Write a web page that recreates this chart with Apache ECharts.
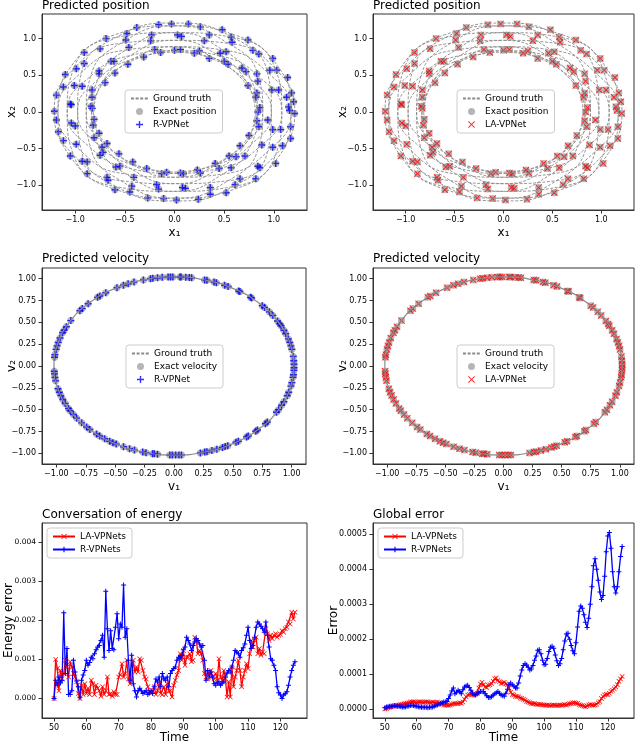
<!DOCTYPE html>
<html>
<head>
<meta charset="utf-8">
<script src="https://cdn.jsdelivr.net/npm/echarts@6/dist/echarts.min.js"></script>
<style>
  html, body { margin: 0; padding: 0; background: #fff; }
  #chart { width: 640px; height: 745px; }
</style>
</head>
<body>
<div id="chart"></div>
<script>
// time samples of the test trajectory (step 0.5)
const timeSteps = [
  50, 50.5, 51, 51.5, 52, 52.5, 53, 53.5, 54, 54.5,
  55, 55.5, 56, 56.5, 57, 57.5, 58, 58.5, 59, 59.5,
  60, 60.5, 61, 61.5, 62, 62.5, 63, 63.5, 64, 64.5,
  65, 65.5, 66, 66.5, 67, 67.5, 68, 68.5, 69, 69.5,
  70, 70.5, 71, 71.5, 72, 72.5, 73, 73.5, 74, 74.5,
  75, 75.5, 76, 76.5, 77, 77.5, 78, 78.5, 79, 79.5,
  80, 80.5, 81, 81.5, 82, 82.5, 83, 83.5, 84, 84.5,
  85, 85.5, 86, 86.5, 87, 87.5, 88, 88.5, 89, 89.5,
  90, 90.5, 91, 91.5, 92, 92.5, 93, 93.5, 94, 94.5,
  95, 95.5, 96, 96.5, 97, 97.5, 98, 98.5, 99, 99.5,
  100, 100.5, 101, 101.5, 102, 102.5, 103, 103.5, 104, 104.5,
  105, 105.5, 106, 106.5, 107, 107.5, 108, 108.5, 109, 109.5,
  110, 110.5, 111, 111.5, 112, 112.5, 113, 113.5, 114, 114.5,
  115, 115.5, 116, 116.5, 117, 117.5, 118, 118.5, 119, 119.5,
  120, 120.5, 121, 121.5, 122, 122.5, 123, 123.5, 124, 124.5
];

// energy error
const energyLA = [
  0, .001, .00077, .0002, .00072, .0005, .00064, .00098, .00081, .00055,
  .00094, .00081, .00064, .00055, .00043, .00013, 0, .00034, .0001, .00038,
  .00013, .00026, .0001, .00047, .00038, .0001, .00034, .00026, .0002, .00006,
  .0003, .0001, .0002, .00055, .0001, .00013, .00006, .00017, .0001, .0001,
  .00055, .0006, .00089, .00055, .00064, .00098, .0005, .00038, .00047, .00098,
  .00068, .00081, .00068, .00102, .00098, .00072, .00055, .0005, .0003, .00017,
  .00013, .0002, .0003, .0001, .0002, .00038, .00013, .0001, .0003, .0001,
  .00038, .0002, .0002, .00004, .00034, .00047, .0006, .00072, .00115, .00098,
  .00123, .00085, .00106, .00106, .00115, .00094, .00098, .00157, .00149, .00115,
  .00123, .00115, .00098, .00064, .00055, .0005, .00064, .00072, .00055, .0005,
  .00064, .00047, .00102, .00055, .00047, .00072, .0005, .00004, .00043, .00004,
  .00081, .0003, .00055, .00072, .00098, .00072, .0003, .00055, .00072, .00089,
  .00077, .00115, .00149, .00132, .00149, .00157, .00115, .00128, .00111, .00119,
  .00115, .00179, .00166, .00149, .00162, .00153, .00162, .00166, .00157, .00162,
  .00165, .00174, .0017, .00179, .00183, .00196, .00191, .00221, .00204, .00221
];
const energyR = [
  0, .00047, .00034, .00055, .0004, .00047, .0022, .00064, .00128, .0001,
  .0001, .0002, .00098, .00068, .00045, .0003, .00002, .00047, .0006, .00072,
  .00098, .00085, .00092, .00106, .00102, .00115, .00125, .00132, .00136, .00149,
  .00162, .00106, .00275, .00179, .00123, .00174, .00128, .00125, .00183, .00217,
  .00153, .00191, .00183, .00291, .00157, .00179, .00098, .00047, .00111, .00038,
  .0002, .00004, .0002, .00026, .0002, .00013, .00016, .0002, .0001, .00015,
  .0002, .00013, .0003, .0005, .00042, .00055, .0003, .00064, .0005, .00047,
  .00055, .0003, .00064, .00072, .00077, .00081, .00098, .00106, .00104, .0011,
  .00125, .00132, .00157, .00149, .0014, .00123, .00136, .00145, .00153, .00149,
  .0014, .00132, .00136, .00098, .00047, .00072, .00055, .00068, .00055, .00038,
  .00034, .0004, .00043, .00034, .0004, .00043, .00055, .00065, .00072, .00068,
  .00081, .00098, .00123, .00119, .00115, .00106, .00123, .0013, .0014, .00162,
  .00183, .00149, .00128, .00136, .00157, .00183, .00196, .00191, .00185, .00179,
  .0017, .00196, .00162, .00132, .00102, .00098, .00085, .00072, .0003, .00015,
  .00009, 0, .00009, .00012, .00017, .00034, .00055, .00072, .00085, .00094
];

// global error
const errorLA = [
  0, .000002, .000004, .000005, .000006, .000008, .000009, .00001, .000011, .000012,
  .000013, .000014, .000015, .000016, .000017, .000018, .00002, .00002, .000021, .00002,
  .000019, .00002, .000021, .00002, .000019, .00002, .000021, .00002, .000019, .000018,
  .00002, .000019, .000018, .00002, .000018, .000016, .000014, .000012, .000012, .000011,
  .000011, .000012, .000014, .000015, .000016, .000015, .000016, .000018, .000017, .00002,
  .000028, .000035, .00004, .000042, .000044, .000042, .00004, .000043, .000045, .00006,
  .000072, .000077, .00007, .000063, .000062, .000068, .00007, .000073, .00008, .000087,
  .000089, .000082, .000078, .000073, .000075, .000077, .000072, .00007, .00006, .000048,
  .000042, .00004, .000037, .000036, .000035, .000032, .00003, .000028, .000025, .000022,
  .00002, .000018, .000016, .000015, .000016, .000014, .000013, .000014, .000013, .000012,
  .000012, .000011, .000012, .000011, .00001, .000011, .000012, .000011, .00001, .000011,
  .000012, .000011, .000012, .000013, .000012, .000014, .000015, .000016, .000018, .000018,
  .000017, .000016, .000013, .000011, .00001, .000008, .000007, .000009, .000012, .000013,
  .000012, .000011, .000012, .000014, .000018, .000022, .00003, .000036, .00004, .000042,
  .000042, .000045, .00005, .000054, .000058, .000063, .00007, .00008, .000086, .000093
];
const errorR = [
  .000004, .000006, .000007, .000008, .000008, .000009, .00001, .000009, .000008, .000008,
  .000007, .000006, .000006, .000007, .000008, .000009, .00001, .000011, .00001, .000009,
  .000008, .000007, .000006, .000005, .000005, .000005, .000005, .000004, .000005, .000005,
  .000006, .000008, .00001, .000012, .000014, .000016, .000018, .00002, .00002, .000022,
  .00003, .00004, .000052, .00006, .000044, .000048, .000054, .00005, .000044, .000055,
  .000063, .000066, .000068, .000062, .000054, .000046, .00004, .00004, .000044, .000047,
  .00005, .00005, .00005, .000044, .000038, .000033, .000033, .000035, .00004, .000044,
  .000047, .00005, .000045, .00004, .000038, .000037, .000045, .000057, .00007, .000075,
  .00007, .000066, .00006, .00006, .000075, .000095, .000112, .000125, .00013, .000126,
  .00012, .000112, .000115, .000125, .00014, .000152, .000168, .00017, .000158, .00014,
  .000127, .000128, .000145, .000165, .000177, .00018, .000174, .000155, .000138, .000125,
  .00013, .000145, .00017, .000195, .000215, .000217, .0002, .000182, .000167, .000158,
  .00019, .000235, .00028, .000295, .000288, .00027, .000248, .000233, .00026, .0003,
  .00035, .00041, .00043, .0004, .000368, .000335, .000313, .000325, .00038, .00045,
  .000495, .000505, .00046, .000393, .00035, .000332, .00035, .000393, .000436, .000465
];

// ground-truth orbit loops (x1, x2), read from the rosette
const positionLoops = [
  [[0.817,0],[0.723,0.418],[0.445,0.770],[0,0.976],[-0.541,0.936],[-1.017,0.587],[-1.212,0],[-1.017,-0.587],[-0.541,-0.936],[0,-0.976],[0.445,-0.770],[0.723,-0.418],[0.817,0]],
  [[0.708,0.409],[0.418,0.723],[0,0.889],[-0.488,0.845],[-0.936,0.541],[-1.174,0],[-1.050,-0.606],[-0.587,-1.017],[0,-1.081],[0.488,-0.845],[0.770,-0.445],[0.835,0],[0.708,0.409]],
  [[0.409,0.708],[0,0.835],[-0.445,0.770],[-0.845,0.488],[-1.081,0],[-1.017,-0.587],[-0.606,-1.050],[0,-1.174],[0.541,-0.936],[0.845,-0.488],[0.889,0],[0.723,0.418],[0.409,0.708]],
  [[0,0.817],[-0.418,0.723],[-0.770,0.445],[-0.976,0],[-0.936,-0.541],[-0.587,-1.017],[0,-1.212],[0.587,-1.017],[0.936,-0.541],[0.976,0],[0.770,0.445],[0.418,0.723],[0,0.817]],
  [[-0.409,0.708],[-0.723,0.418],[-0.889,0],[-0.845,-0.488],[-0.541,-0.936],[0,-1.174],[0.606,-1.050],[1.017,-0.587],[1.081,0],[0.845,0.488],[0.445,0.770],[0,0.835],[-0.409,0.708]],
  [[-0.708,0.409],[-0.835,0],[-0.770,-0.445],[-0.488,-0.845],[0,-1.081],[0.587,-1.017],[1.050,-0.606],[1.174,0],[0.936,0.541],[0.488,0.845],[0,0.889],[-0.418,0.723],[-0.708,0.409]],
  [[-0.817,0],[-0.723,-0.418],[-0.445,-0.770],[0,-0.976],[0.541,-0.936],[1.017,-0.587],[1.212,0],[1.017,0.587],[0.541,0.936],[0,0.976],[-0.445,0.770],[-0.723,0.418],[-0.817,0]],
  [[-0.708,-0.409],[-0.418,-0.723],[0,-0.889],[0.488,-0.845],[0.936,-0.541],[1.174,0],[1.050,0.606],[0.587,1.017],[0,1.081],[-0.488,0.845],[-0.770,0.445],[-0.835,0],[-0.708,-0.409]],
  [[-0.409,-0.708],[0,-0.835],[0.445,-0.770],[0.845,-0.488],[1.081,0],[1.017,0.587],[0.606,1.050],[0,1.174],[-0.541,0.936],[-0.845,0.488],[-0.889,0],[-0.723,-0.418],[-0.409,-0.708]],
  [[0,-0.817],[0.418,-0.723],[0.770,-0.445],[0.976,0],[0.936,0.541],[0.587,1.017],[0,1.212],[-0.587,1.017],[-0.936,0.541],[-0.976,0],[-0.770,-0.445],[-0.418,-0.723],[0,-0.817]],
  [[0.409,-0.708],[0.723,-0.418],[0.889,0],[0.845,0.488],[0.541,0.936],[0,1.174],[-0.606,1.050],[-1.017,0.587],[-1.081,0],[-0.845,-0.488],[-0.445,-0.770],[0,-0.835],[0.409,-0.708]],
  [[0.708,-0.409],[0.835,0],[0.770,0.445],[0.488,0.845],[0,1.081],[-0.587,1.017],[-1.050,0.606],[-1.174,0],[-0.936,-0.541],[-0.488,-0.845],[0,-0.889],[0.418,-0.723],[0.708,-0.409]]
];

// sampled positions (exact and predicted coincide at this scale)
const positionSamples = [
  [-0.38,1.15],[-0.16,1.19],[-0.03,1.20],[0.14,1.20],[0.26,1.16],[0.48,1.12],
  [-0.48,1.07],[-0.23,1.05],[0.03,1.05],[0.07,1.03],[0.35,1.05],[0.57,1.02],[0.74,0.98],
  [-0.69,1.00],[-0.49,0.98],[-0.24,0.97],[0.30,0.97],[0.58,0.95],
  [-0.91,0.81],[-0.75,0.86],[-0.46,0.88],[-0.20,0.85],[-0.14,0.81],[0.00,0.84],[0.06,0.85],[0.20,0.80],[0.25,0.83],[0.46,0.80],[0.52,0.82],[0.79,0.84],[0.85,0.79],[0.99,0.73],
  [-0.64,0.69],[-0.61,0.69],[-0.47,0.65],[-0.31,0.75],[0.35,0.73],[0.50,0.69],[0.54,0.65],[0.68,0.60],[0.83,0.52],[0.96,0.57],[1.03,0.57],
  [-0.99,0.59],[-0.91,0.66],[-1.10,0.51],[-1.12,0.34],[-1.01,0.36],[-0.93,0.35],[-0.83,0.30],[-0.76,0.56],[-0.76,0.52],[-0.70,0.40],[-0.60,0.53],
  [-1.19,0.23],[-1.21,0.01],[-1.19,-0.11],[-1.17,-0.27],[-1.12,-0.39],[-1.05,0.11],[-1.04,0.10],[-1.04,-0.15],[-1.00,-0.19],[-0.99,-0.44],[-1.05,-0.60],[-0.93,-0.67],[-0.88,-0.68],[-0.88,-0.84],
  [-0.83,0.20],[-0.84,0.08],[-0.83,0.05],[-0.81,-0.10],[-0.82,-0.18],[-0.81,-0.35],[-0.76,-0.29],[-0.73,-0.48],[-0.75,-0.59],[-0.72,-0.55],[-0.68,-0.43],[-0.68,-0.89],[-0.67,-0.93],[-0.60,-1.06],
  [-0.56,-0.57],[-0.59,-0.75],[-0.55,-0.74],[-0.45,-1.09],[-0.43,-1.01],[-0.42,-0.68],[-0.41,-0.89],[-0.28,-0.77],[-0.27,-1.17],[-0.18,-0.99],[-0.16,-1.05],[-0.13,-0.84],[-0.11,-1.18],[-0.08,-0.82],
  [0.02,-1.20],[0.06,-0.83],[0.09,-0.84],[0.08,-1.03],[0.11,-1.04],[0.23,-0.79],[0.24,-1.19],[0.26,-0.83],[0.36,-1.03],[0.36,-1.12],[0.41,-0.70],[0.45,-0.77],[0.52,-1.10],[0.55,-0.60],[0.57,-0.76],
  [0.61,-0.99],[0.66,-0.91],[0.62,-0.61],[0.71,-0.60],[0.66,-0.46],[0.75,-0.32],[0.84,-0.74],[0.86,-0.76],[0.88,-0.45],[0.82,-0.91],
  [0.82,0.20],[0.83,0.26],[0.84,0.00],[0.83,-0.12],[0.85,-0.20],[0.86,0.06],[0.84,0.42],[0.98,0.30],[1.05,0.30],[1.14,0.47],[1.13,0.20],[1.15,0.07],[1.18,0.26],[1.20,0.14],
  [1.21,-0.02],[1.17,-0.20],[1.17,-0.36],[1.09,-0.46],[1.02,-0.70],[0.99,-0.48],[1.07,-0.24],[0.99,-0.24],[0.94,-0.11],[1.16,0.02],[0.74,0.36],[0.72,0.55]
];

// ground-truth velocity curve (v1, v2)
const velocityCircle = [
  [1.02,0],[0.985,0.264],[0.883,0.51],[0.721,0.721],[0.51,0.883],[0.264,0.985],[0,1.02],
  [-0.264,0.985],[-0.51,0.883],[-0.721,0.721],[-0.883,0.51],[-0.985,0.264],[-1.02,0],
  [-0.985,-0.264],[-0.883,-0.51],[-0.721,-0.721],[-0.51,-0.883],[-0.264,-0.985],[0,-1.02],
  [0.264,-0.985],[0.51,-0.883],[0.721,-0.721],[0.883,-0.51],[0.985,-0.264],[1.02,0]
];

// sampled velocities
const velocitySamples = [
  [-0.80,0.633],[-0.78,0.657],[-0.73,0.712],[-0.65,0.786],[-0.63,0.802],[-0.58,0.839],[-0.485,0.897],[-0.43,0.925],[-0.39,0.942],[-0.34,0.962],
  [-0.26,0.986],[-0.20,1.0],[-0.18,1.004],[-0.14,1.01],[-0.10,1.015],[-0.05,1.019],[-0.03,1.02],[-0.01,1.02],[0.05,1.019],[0.06,1.018],
  [0.10,1.015],[0.13,1.012],[0.15,1.009],[0.26,0.986],[0.28,0.981],[0.34,0.962],[0.36,0.954],[0.43,0.925],[0.46,0.91],[0.55,0.859],
  [0.56,0.853],[0.65,0.786],[0.66,0.778],[0.75,0.691],[0.77,0.669],[0.81,0.62],[0.84,0.579],[0.88,0.516],[0.90,0.48],[0.91,0.461],
  [0.934,0.41],[0.95,0.37],
  [0.972,0.31],[0.984,0.27],[0.994,0.23],[1.002,0.19],[1.014,0.11],[1.018,0.06],[1.02,0.02],[1.02,-0.02],[1.019,-0.05],[1.015,-0.10],
  [1.012,-0.13],[1.002,-0.19],[0.994,-0.23],[0.975,-0.30],[0.962,-0.34],[0.934,-0.41],[0.915,-0.45],[0.889,-0.50],[0.871,-0.53],
  [0.793,-0.642],[0.777,-0.661],[0.709,-0.733],[0.695,-0.747],[0.631,-0.801],[0.617,-0.812],[0.547,-0.861],[0.527,-0.873],[0.457,-0.912],[0.435,-0.923],
  [0.412,-0.933],[0.364,-0.953],[0.322,-0.968],[0.28,-0.981],[0.261,-0.986],[0.224,-0.995],[0.064,-1.018],[0.042,-1.019],[0.014,-1.02],[-0.014,-1.02],
  [-0.036,-1.019],[-0.14,-1.01],[-0.168,-1.006],[-0.182,-1.004],[-0.238,-0.992],[-0.266,-0.985],[-0.336,-0.963],[-0.378,-0.947],[-0.429,-0.925],[-0.491,-0.894],
  [-0.519,-0.878],[-0.547,-0.861],[-0.589,-0.833],[-0.631,-0.801],[-0.659,-0.779],[-0.715,-0.727],[-0.743,-0.699],[-0.785,-0.651],[-0.827,-0.597],[-0.855,-0.556],
  [-0.883,-0.511],[-0.897,-0.486],[-0.925,-0.43],[-0.945,-0.384],[-0.962,-0.339],
  [-0.975,-0.30],[-0.986,-0.26],[-1.006,-0.17],[-1.012,-0.13],[-1.016,-0.09],[-1.018,-0.06],[-1.015,0.10],[-1.012,0.13],[-1.002,0.19],[-0.994,0.23],
  [-0.984,0.27],[-0.969,0.32],[-0.947,0.38],[-0.934,0.41],[-0.915,0.45],[-0.877,0.52]
];

// tick labels
const posTicks = [-1, -0.5, 0, 0.5, 1];
const velTicks = [-1, -0.75, -0.5, -0.25, 0, 0.25, 0.5, 0.75, 1];
const timeTicks = [50, 60, 70, 80, 90, 100, 110, 120];
const energyTicks = [0, 0.001, 0.002, 0.003, 0.004];
const errorTicks = [0, 0.0001, 0.0002, 0.0003, 0.0004, 0.0005];

const FONT = 'DejaVu Sans';
const PLUS = 'path://M4,0L6,0L6,4L10,4L10,6L6,6L6,10L4,10L4,6L0,6L0,4L4,4Z';
const CROSS = 'path://M1,0L5,4L9,0L10,1L6,5L10,9L9,10L5,6L1,10L0,9L4,5L0,1Z';
const BLUE = '#0000ff';
const RED = '#ff0000';
const GREY = '#8a8a8a';

var chart = echarts.init(document.getElementById('chart'), null, { renderer: 'canvas' });

function makeAxis(grid, min, max, ticks, digits, name, gap, labelSize) {
  return {
    type: 'value', gridIndex: grid, min: min, max: max,
    name: name, nameLocation: 'middle', nameGap: gap, nameMoveOverlap: false,
    nameTextStyle: { fontFamily: FONT, fontSize: 12, color: '#000' },
    axisLine: { show: true, onZero: false, lineStyle: { color: '#333', width: 1 } },
    axisTick: { show: true, length: 3.5, customValues: ticks, lineStyle: { color: '#333' } },
    axisLabel: {
      customValues: ticks, margin: 6, fontFamily: FONT, fontSize: labelSize || 8, color: '#000',
      hideOverlap: false,
      formatter: v => (v < 0 ? '\u2212' : '') + Math.abs(v).toFixed(digits)
    },
    splitLine: { show: false }
  };
}

const grids = [
  { left: 42, top: 14, width: 265, height: 196 },
  { left: 373, top: 14, width: 261, height: 196 },
  { left: 42, top: 268, width: 264, height: 196 },
  { left: 373, top: 268, width: 261, height: 196 },
  { left: 42, top: 523, width: 265, height: 197 },
  { left: 373, top: 523, width: 261, height: 197 }
].map(g => Object.assign(g, { show: true, borderColor: '#333', borderWidth: 1 }));

const xAxes = [
  makeAxis(0, -1.335, 1.335, posTicks, 1, 'x\u2081', 17),
  makeAxis(1, -1.335, 1.335, posTicks, 1, 'x\u2081', 17),
  makeAxis(2, -1.122, 1.122, velTicks, 2, 'v\u2081', 17),
  makeAxis(3, -1.122, 1.122, velTicks, 2, 'v\u2081', 17),
  makeAxis(4, 46.275, 128.225, timeTicks, 0, 'Time', 14),
  makeAxis(5, 46.275, 128.225, timeTicks, 0, 'Time', 14)
];
const yAxes = [
  makeAxis(0, -1.335, 1.335, posTicks, 1, 'x\u2082', 24),
  makeAxis(1, -1.335, 1.335, posTicks, 1, 'x\u2082', 24),
  makeAxis(2, -1.122, 1.122, velTicks, 2, 'v\u2082', 24),
  makeAxis(3, -1.122, 1.122, velTicks, 2, 'v\u2082', 24),
  makeAxis(4, -0.0005, 0.0045, energyTicks, 3, 'Energy error', 27, 7.5),
  makeAxis(5, -0.0000254, 0.000532, errorTicks, 4, 'Error', 33)
];

const series = [];
// position panels
[0, 1].forEach(function (g) {
  positionLoops.forEach(function (loop) {
    series.push({
      name: 'Ground truth', type: 'line', xAxisIndex: g, yAxisIndex: g,
      data: loop, smooth: 0.5, symbol: 'none',
      itemStyle: { color: 'rgba(0,0,0,0)' },
      lineStyle: { color: GREY, width: 0.9, type: [3, 1.6] }
    });
  });
  series.push({
    name: 'Exact position', type: 'scatter', xAxisIndex: g, yAxisIndex: g,
    data: positionSamples, symbol: 'circle', symbolSize: 7,
    itemStyle: { color: 'rgba(140,140,140,0.8)' }
  });
  series.push({
    name: g === 0 ? 'R-VPNet' : 'LA-VPNet', type: 'scatter', xAxisIndex: g, yAxisIndex: g,
    data: positionSamples, symbol: g === 0 ? PLUS : CROSS, symbolSize: 7,
    itemStyle: { color: g === 0 ? BLUE : RED }
  });
});
// velocity panels
[2, 3].forEach(function (g) {
  series.push({
    name: 'Ground truth', type: 'line', xAxisIndex: g, yAxisIndex: g,
    data: velocityCircle, smooth: 0.5, symbol: 'none',
    itemStyle: { color: 'rgba(0,0,0,0)' },
    lineStyle: { color: GREY, width: 1.2 }
  });
  series.push({
    name: 'Exact velocity', type: 'scatter', xAxisIndex: g, yAxisIndex: g,
    data: velocitySamples, symbol: 'circle', symbolSize: 7,
    itemStyle: { color: 'rgba(140,140,140,0.8)' }
  });
  series.push({
    name: g === 2 ? 'R-VPNet' : 'LA-VPNet', type: 'scatter', xAxisIndex: g, yAxisIndex: g,
    data: velocitySamples, symbol: g === 2 ? PLUS : CROSS, symbolSize: 7,
    itemStyle: { color: g === 2 ? BLUE : RED }
  });
});
// error panels
function pairs(values) {
  return timeSteps.map((t, i) => [t, values[i]]);
}
[[4, energyLA, energyR], [5, errorLA, errorR]].forEach(function (p) {
  series.push({
    name: 'LA-VPNets', type: 'line', xAxisIndex: p[0], yAxisIndex: p[0],
    data: pairs(p[1]), symbol: CROSS, symbolSize: 5, showSymbol: true,
    itemStyle: { color: RED }, lineStyle: { color: RED, width: 1.3 }
  });
  series.push({
    name: 'R-VPNets', type: 'line', xAxisIndex: p[0], yAxisIndex: p[0],
    data: pairs(p[2]), symbol: PLUS, symbolSize: 5, showSymbol: true,
    itemStyle: { color: BLUE }, lineStyle: { color: BLUE, width: 1.3 }
  });
});

const truthItem = { name: 'Ground truth', itemStyle: { opacity: 0 } };

function makeLegend(left, top, names, itemWidth, itemHeight) {
  return {
    left: left, top: top, orient: 'vertical', data: names,
    itemWidth: itemWidth, itemHeight: itemHeight, itemGap: 2,
    padding: [3, 6, 3, 5], selectedMode: false,
    backgroundColor: 'rgba(255,255,255,0.85)', borderColor: '#cccccc', borderWidth: 1, borderRadius: 3,
    textStyle: { fontFamily: FONT, fontSize: 9, color: '#000', lineHeight: 11 }
  };
}

const titleStyle = { fontFamily: FONT, fontSize: 12, fontWeight: 'normal', color: '#000' };
const titles = [
  ['Predicted position', 42, 0], ['Predicted position', 373, 0],
  ['Predicted velocity', 42, 253], ['Predicted velocity', 373, 253],
  ['Conversation of energy', 42, 509], ['Global error', 373, 509]
].map(t => ({ text: t[0], left: t[1], top: t[2], padding: 0, textStyle: titleStyle }));

var option = {
  backgroundColor: '#fff',
  animation: false,
  title: titles,
  grid: grids,
  xAxis: xAxes,
  yAxis: yAxes,
  legend: [
    makeLegend(125, 90, [truthItem, 'Exact position', 'R-VPNet'], 17, 7),
    makeLegend(457, 90, [truthItem, 'Exact position', 'LA-VPNet'], 17, 7),
    makeLegend(126, 345, [truthItem, 'Exact velocity', 'R-VPNet'], 17, 7),
    makeLegend(457, 345, [truthItem, 'Exact velocity', 'LA-VPNet'], 17, 7),
    makeLegend(47, 528, ['LA-VPNets', 'R-VPNets'], 22, 7),
    makeLegend(378, 528, ['LA-VPNets', 'R-VPNets'], 22, 7)
  ],
  series: series
};
chart.setOption(option);
</script>
</body>
</html>
